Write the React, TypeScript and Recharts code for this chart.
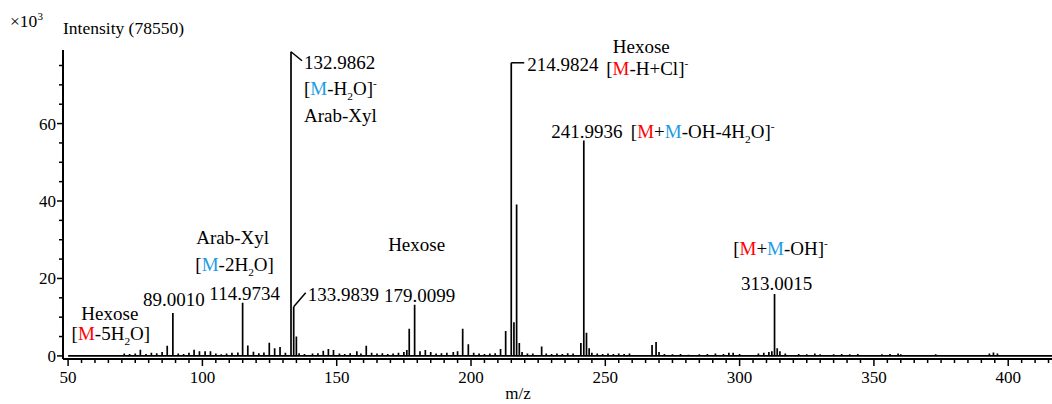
import React from 'react';
import { ComposedChart, Line, Scatter, XAxis, YAxis } from 'recharts';

// m/z of each peak, and its intensity (x10^3)
const peakMz = [
  70.9, 72.9, 75.0, 76.9, 79.0, 81.0, 83.0, 85.0, 86.9, 89.001,
  91.0, 93.0, 95.0, 96.9, 98.9, 101.0, 103.0, 105.0, 107.0, 109.0,
  111.0, 113.2, 114.9734, 116.9, 119.0, 121.0, 122.9, 124.9, 126.9, 128.9,
  130.9, 132.9862, 133.9839, 134.98, 136.0, 138.0, 141.0, 143.0, 145.0, 146.9,
  148.8, 151.0, 153.0, 155.0, 157.5, 159.0, 161.0, 163.0, 165.0, 167.0,
  169.0, 171.0, 173.0, 175.0, 176.1, 177.0, 179.0099, 181.0, 183.0, 185.0,
  187.0, 189.0, 191.0, 193.4, 195.0, 196.9, 199.0, 201.0, 203.0, 205.0,
  207.0, 209.0, 211.0, 212.9, 214.9824, 215.98, 216.98, 217.98, 219.0, 221.0,
  223.0, 226.3, 228.0, 230.0, 232.0, 234.0, 236.0, 238.0, 240.9, 241.9936,
  242.99, 243.99, 245.0, 247.0, 249.0, 251.0, 253.0, 255.0, 257.0, 259.0,
  267.4, 268.9, 270.0, 272.0, 275.0, 278.0, 281.0, 285.0, 288.0, 291.0,
  294.0, 296.0, 297.6, 300.0, 307.0, 309.0, 310.9, 312.0, 313.0015, 314.0,
  315.0, 317.0, 322.0, 325.0, 328.0, 330.0, 335.0, 338.0, 341.0, 344.0,
  353.0, 356.0, 359.0, 360.0, 373.0, 393.0, 394.5, 396.0,
];
const peakInt = [
  0.6, 0.5, 0.6, 1.6, 0.5, 0.8, 0.7, 1.0, 2.6, 11.1,
  0.6, 0.5, 0.8, 1.6, 1.2, 1.2, 1.2, 0.6, 0.4, 0.6,
  0.8, 0.9, 13.7, 2.7, 1.1, 0.7, 0.9, 3.4, 2.0, 2.3,
  0.8, 78.55, 12.7, 5.0, 0.7, 0.5, 0.6, 0.7, 1.3, 1.8,
  1.5, 0.6, 0.5, 0.7, 1.2, 0.6, 2.6, 0.8, 0.6, 0.7,
  0.5, 0.6, 0.8, 1.0, 1.5, 7.0, 13.2, 1.2, 1.5, 1.0,
  0.6, 0.7, 0.8, 1.0, 1.2, 7.0, 3.0, 0.8, 0.6, 0.5,
  0.6, 0.7, 1.8, 6.4, 75.7, 8.7, 39.1, 3.3, 1.0, 0.6,
  0.6, 2.4, 0.6, 0.5, 0.6, 0.5, 0.7, 0.6, 3.3, 55.6,
  6.0, 2.0, 0.8, 0.6, 0.5, 0.6, 0.5, 0.6, 0.5, 0.6,
  2.8, 3.6, 1.0, 0.5, 0.4, 0.5, 0.3, 0.4, 0.5, 0.6,
  0.5, 0.8, 0.8, 0.5, 0.6, 0.8, 1.0, 1.2, 16.0, 2.0,
  1.2, 0.6, 0.5, 0.4, 0.6, 0.4, 0.4, 0.5, 0.4, 0.5,
  0.4, 0.5, 0.6, 0.4, 0.4, 0.6, 0.9, 0.6,
];

// labelled peaks
const labelMz = [89.001, 114.9734, 132.9862, 133.9839, 179.0099, 214.9824, 241.9936, 313.0015];
const labelText = ['89.0010', '114.9734', '132.9862', '133.9839', '179.0099', '214.9824', '241.9936', '313.0015'];

const xLabels = [50, 100, 150, 200, 250, 300, 350, 400];
const yLabels = [0, 20, 40, 60];

const RED = '#ff0000';
const BLUE = '#1c9ce6';
const FONT = 'Liberation Serif';
const FS = 17; // axis text
const AS = 19; // annotation text

// stick spectrum: each peak goes up from the baseline and back down
const lineData: { mz: number; i: number }[] = [{ mz: 50, i: 0 }];
peakMz.forEach((m, k) => {
  lineData.push({ mz: m, i: 0 }, { mz: m, i: peakInt[k] }, { mz: m, i: 0 });
});
lineData.push({ mz: 416.3, i: 0 });

const labelData = labelMz.map((m, k) => ({ mz: m, i: peakInt[peakMz.indexOf(m)], k }));

const xTicks: number[] = [];
for (let v = 50; v <= 415; v += 5) xTicks.push(v);
const yTicks: number[] = [];
for (let v = 0; v <= 75; v += 5) yTicks.push(v);

type Part = [string, ('r' | 'b' | 'sub' | 'sup')?];

function Rich({ x, y, parts, anchor = 'start', size = AS }: { x: number; y: number; parts: Part[]; anchor?: string; size?: number }) {
  let shift = 0;
  return (
    <text x={x} y={y} textAnchor={anchor as any} style={{ fontFamily: FONT, fontSize: size }} fill="#000">
      {parts.map(([t, k], idx) => {
        const target = k === 'sub' ? 5 : k === 'sup' ? -8 : 0;
        const dy = target - shift;
        shift = target;
        const small = k === 'sub' || k === 'sup';
        return (
          <tspan key={idx} dy={dy} style={{ fontSize: small ? size * 0.6 : size }} fill={k === 'r' ? RED : k === 'b' ? BLUE : '#000'}>
            {t}
          </tspan>
        );
      })}
    </text>
  );
}

function Annotation(props: any) {
  const { cx, cy, payload } = props;
  const k = payload.k;
  const num = labelText[k];
  switch (k) {
    case 0:
      return (
        <g>
          <Rich x={cx + 1} y={cy - 7} anchor="middle" parts={[[num]]} />
          <Rich x={cx - 63} y={cy + 7} anchor="middle" parts={[['Hexose']]} />
          <Rich x={cx - 62} y={cy + 27} anchor="middle" parts={[['['], ['M', 'r'], ['-5H'], ['2', 'sub'], ['O]']]} />
        </g>
      );
    case 1:
      return (
        <g>
          <Rich x={cx + 2} y={cy - 3} anchor="middle" parts={[[num]]} />
          <Rich x={cx - 8} y={cy - 32} anchor="middle" parts={[['['], ['M', 'b'], ['-2H'], ['2', 'sub'], ['O]']]} />
          <Rich x={cx - 10} y={cy - 59} anchor="middle" parts={[['Arab-Xyl']]} />
        </g>
      );
    case 2:
      return (
        <g>
          <line x1={cx} y1={cy} x2={cx + 11} y2={cy + 9} stroke="#000" strokeWidth={1.5} />
          <Rich x={cx + 13} y={cy + 17} parts={[[num]]} />
          <Rich x={cx + 13} y={cy + 43} parts={[['['], ['M', 'b'], ['-H'], ['2', 'sub'], ['O]'], ['-', 'sup']]} />
          <Rich x={cx + 13} y={cy + 70} parts={[['Arab-Xyl']]} />
        </g>
      );
    case 3:
      return (
        <g>
          <line x1={cx} y1={cy} x2={cx + 12} y2={cy - 14} stroke="#000" strokeWidth={1.5} />
          <Rich x={cx + 14} y={cy - 6} parts={[[num]]} />
        </g>
      );
    case 4:
      return (
        <g>
          <Rich x={cx + 5} y={cy - 3} anchor="middle" parts={[[num]]} />
          <Rich x={cx + 2} y={cy - 54} anchor="middle" parts={[['Hexose']]} />
        </g>
      );
    case 5:
      return (
        <g>
          <line x1={cx} y1={cy} x2={cx + 13} y2={cy} stroke="#000" strokeWidth={1.5} />
          <Rich x={cx + 16} y={cy + 8} parts={[[num]]} />
          <Rich x={cx + 130} y={cy - 10} anchor="middle" parts={[['Hexose']]} />
          <Rich x={cx + 136} y={cy + 12} anchor="middle" parts={[['['], ['M', 'r'], ['-H+Cl]'], ['-', 'sup']]} />
        </g>
      );
    case 6:
      return (
        <g>
          <Rich x={cx + 3} y={cy - 3} anchor="middle" parts={[[num]]} />
          <Rich x={cx + 47} y={cy - 3} parts={[['['], ['M', 'r'], ['+'], ['M', 'b'], ['-OH-4H'], ['2', 'sub'], ['O]'], ['-', 'sup']]} />
        </g>
      );
    case 7:
      return (
        <g>
          <Rich x={cx + 2} y={cy - 4} anchor="middle" parts={[[num]]} />
          <Rich x={cx + 6} y={cy - 39} anchor="middle" parts={[['['], ['M', 'r'], ['+'], ['M', 'b'], ['-OH]'], ['-', 'sup']]} />
        </g>
      );
    default:
      return null;
  }
}

function XTick({ x, y, payload }: any) {
  const v = payload.value;
  const major = xLabels.includes(v);
  return (
    <g>
      <line x1={x} x2={x} y1={y} y2={y + (major ? 7 : 4)} stroke="#000" strokeWidth={1.5} />
      {major && (
        <text x={x} y={y + 24} textAnchor="middle" style={{ fontFamily: FONT, fontSize: FS }} fill="#000">
          {v}
        </text>
      )}
    </g>
  );
}

function YTick({ x, y, payload }: any) {
  const v = payload.value;
  const major = yLabels.includes(v);
  return (
    <g>
      <line x1={x} x2={x - (major ? 6 : 4)} y1={y} y2={y} stroke="#000" strokeWidth={1.5} />
      {major && (
        <text x={x - 7} y={y + 6} textAnchor="end" style={{ fontFamily: FONT, fontSize: FS }} fill="#000">
          {v}
        </text>
      )}
    </g>
  );
}

function YTitle({ viewBox }: any) {
  const { x, y } = viewBox;
  return (
    <g fill="#000">
      <text x={10} y={y - 23} style={{ fontFamily: FONT, fontSize: 17.5 }}>
        ×10<tspan dy={-7} style={{ fontSize: 11 }}>3</tspan>
      </text>
      <text x={x + viewBox.width} y={y - 16} style={{ fontFamily: FONT, fontSize: 17.5 }}>
        Intensity (78550)
      </text>
    </g>
  );
}

function XTitle({ viewBox }: any) {
  const { x, y } = viewBox;
  return (
    <text x={x + 455} y={y + 40} textAnchor="middle" style={{ fontFamily: FONT, fontSize: FS }} fill="#000">
      m/z
    </text>
  );
}

export default function App() {
  return (
    <div style={{ position: 'absolute', left: 0, top: 0, background: '#fff' }}>
      <ComposedChart width={1052} height={404} data={lineData} margin={{ top: 50, right: 0, bottom: 0, left: 0 }}>
        <XAxis
          dataKey="mz"
          type="number"
          domain={[48.1, 416.3]}
          ticks={xTicks}
          interval={0}
          tick={<XTick />}
          tickLine={false}
          tickSize={0}
          tickMargin={0}
          axisLine={{ stroke: '#000', strokeWidth: 2 }}
          height={45}
          label={{ content: <XTitle /> }}
        />
        <YAxis
          type="number"
          domain={[-0.8, 79]}
          ticks={yTicks}
          interval={0}
          tick={<YTick />}
          tickLine={false}
          tickSize={0}
          tickMargin={0}
          width={63}
          axisLine={{ stroke: '#000', strokeWidth: 2 }}
          label={{ content: <YTitle />, position: 'top' }}
        />
        <Line dataKey="i" type="linear" stroke="#000" strokeWidth={1.7} dot={false} isAnimationActive={false} />
        <Scatter data={labelData} dataKey="i" shape={<Annotation />} isAnimationActive={false} />
      </ComposedChart>
    </div>
  );
}
